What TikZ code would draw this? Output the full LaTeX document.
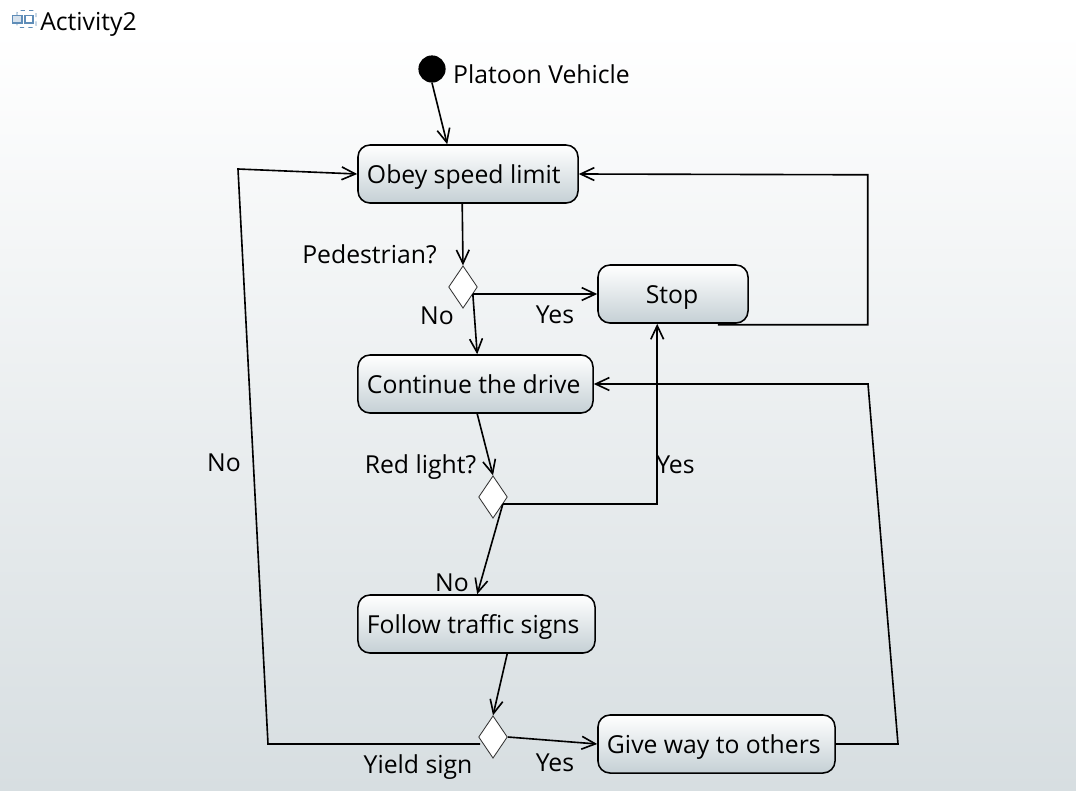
\documentclass[tikz,border=0pt]{standalone}
\usepackage{fontspec}
\setmainfont{Open Sans}
\usepackage{xcolor}
\usepackage{tikz}
\usetikzlibrary{arrows.meta, positioning, shapes.geometric, calc}
\definecolor{pagebot}{HTML}{D7DEE1}
\definecolor{boxbot}{HTML}{C5D0D5}
\definecolor{iconblue}{HTML}{5F8DB8}
\tikzset{
  action/.style={rectangle,rounded corners=0.3cm,draw=black,line width=1.1pt,
    top color=white,bottom color=boxbot,align=flush left,minimum height=1.45cm,
    inner xsep=0.225cm,inner ysep=0pt,text width=#1-0.45cm,text height=16pt,text depth=3.2pt},
  choice/.style={diamond,draw=black!80,fill=white,line width=0.6pt,inner sep=0pt,
    minimum width=0.72cm,minimum height=1.06cm},
  startdot/.style={circle,fill=black,inner sep=0pt,minimum size=0.68cm},
  lab/.style={inner sep=0pt,anchor=base},
  ar/.style={-{Straight Barb[length=3.4mm,width=3.2mm]},line width=1.15pt,draw=black}
}
\begin{document}
\begin{tikzpicture}[x=0.025cm,y=-0.025cm,font=\fontsize{17.6}{20}\selectfont]
\useasboundingbox (0,0) rectangle (1076,790);
\fill[white] (0,0) rectangle (1076,790);
\shade[top color=white,bottom color=pagebot] (0,30) rectangle (1076,790);
% header
\draw[iconblue,line width=0.7pt,dashed,rounded corners=1.5pt] (17,10.5) rectangle (36,27.5);
\draw[iconblue,line width=0.8pt,fill=iconblue!25] (12.5,15.5) rectangle (22,23);
\draw[iconblue,line width=0.8pt,fill=white] (25,15.5) rectangle (33,23);
\node[lab] (title) at (88.5,30) {Activity2};
% nodes
\node[startdot] (start) at (432,69) {};
\node[action=5.5cm] (obey) at (468,174) {Obey speed limit};
\node[choice] (ped) at (463,287) {};
\node[action=3.75cm,align=center] (halt) at (673,294) {\hspace*{-0.05cm}Stop};
\node[action=5.875cm] (cont) at (475.5,384) {Continue the drive};
\node[choice] (red) at (493,497) {};
\node[action=5.925cm] (signs) at (476.5,624) {Follow traffic signs};
\node[choice] (yield) at (493,737) {};
\node[action=5.925cm] (give) at (716.5,744) {Give way to others};
% labels
\node[lab] (lstart) at (541.5,83) {Platoon Vehicle};
\node[lab] (lped) at (369.5,263) {Pedestrian?};
\node[lab] (lpedno) at (437,324) {No};
\node[lab] (lpedyes) at (555,323) {Yes};
\node[lab] (lred) at (420.5,473) {Red light?};
\node[lab] (lredyes) at (675.5,473) {Yes};
\node[lab] (lredno) at (452,591) {No};
\node[lab] (lyield) at (418,773) {Yield sign};
\node[lab] (lyieldyes) at (555,771) {Yes};
\node[lab] (lyieldno) at (224,471) {No};
% connectors
\draw[ar] (start.south) -- ($(obey.north west)+(90,0)$);
\draw[ar] ($(obey.south west)+(105,0)$) -- (ped.north);
\draw[ar] ($(ped.east)+(-5,7)$) -- (halt.west |- 0,294);
\draw[ar] ($(ped.east)+(-5,7)$) -- ($(cont.north west)+(120,0)$);
\draw[ar] ($(cont.south west)+(120,0)$) -- (red.north);
\draw[ar] ($(red.east)+(-5,7)$) -- ($(signs.north west)+(120,0)$);
\draw[ar] ($(red.east)+(-5,7)$) -| ($(halt.south west)+(60,0)$);
\draw[ar] ($(signs.south west)+(150,0)$) -- (yield.north);
\draw[ar] (yield.east) -- (give.west);
\draw[ar] ($(halt.south east)+(-31,1)$) -- ++(150,0) -- ++(0,-150) -- (obey.east);
\draw[ar] (give.east) -- (898,744) -- (868,384) -- (cont.east);
\draw[ar] ($(yield.west)+(2,7)$) -- (268,744) -- (238,169) -- (obey.west);
\end{tikzpicture}
\end{document}
